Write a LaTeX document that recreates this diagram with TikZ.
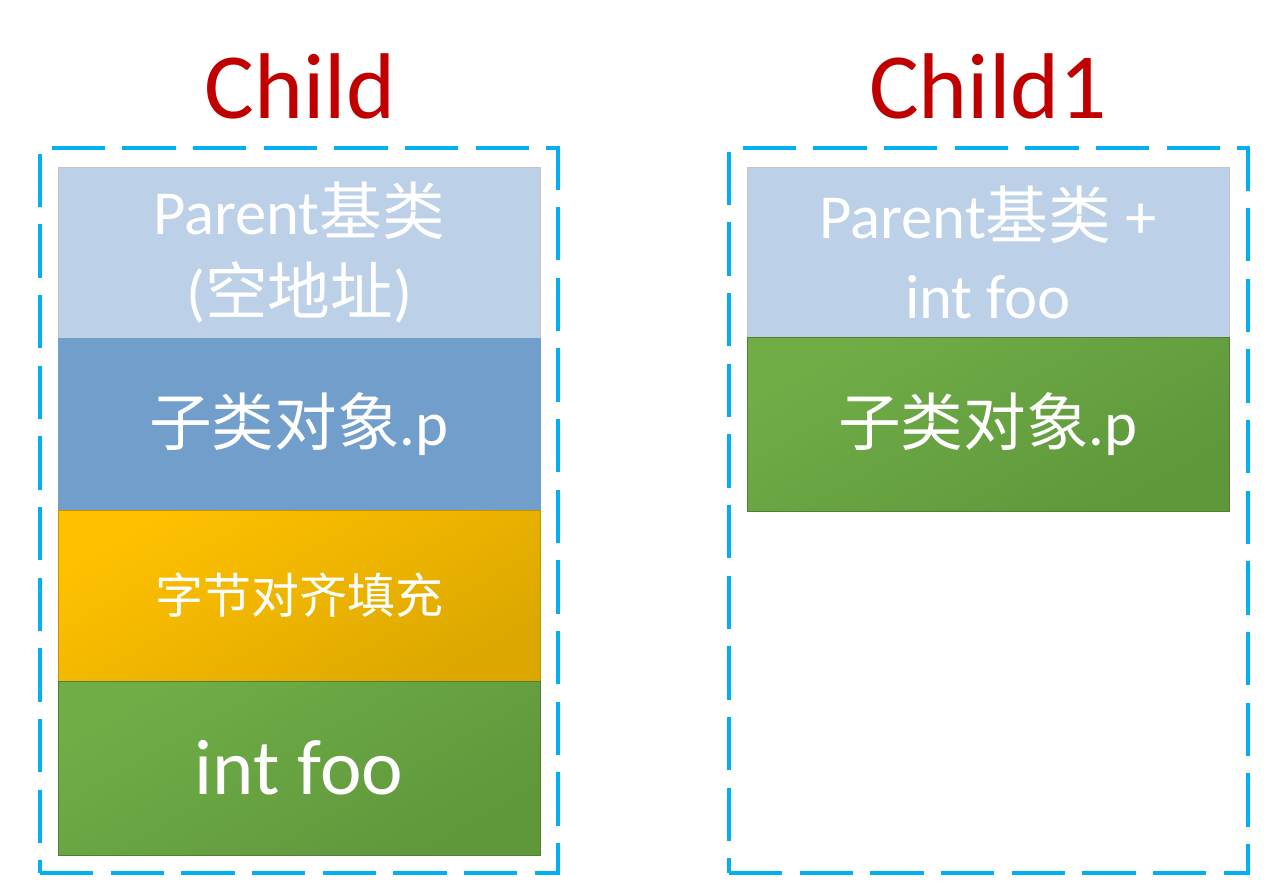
\documentclass[tikz,border=0pt]{standalone}
\usepackage{fontspec}
\setmainfont{Carlito}
\newfontfamily\cjk{Noto Sans CJK SC}
\definecolor{dashblue}{HTML}{00B0F0}
\definecolor{titlered}{HTML}{C00000}
\definecolor{lightblue}{HTML}{BCD0E8}
\definecolor{midblue}{HTML}{729ECB}
\definecolor{greyb}{HTML}{C4C4C4}
\definecolor{yellowA}{HTML}{FFC000}
\definecolor{yellowB}{HTML}{DCA800}
\definecolor{yellowD}{HTML}{C29400}
\definecolor{greenA}{HTML}{70AD47}
\definecolor{greenB}{HTML}{5F973B}
\definecolor{greenD}{HTML}{507E32}
\begin{document}
\begin{tikzpicture}[x=0.75pt,y=-0.75pt,
  frame/.style={draw=dashblue, line width=3pt, dash pattern=on 40pt off 13pt,
    minimum width=388.5pt, minimum height=543.75pt, inner sep=0pt},
  blk/.style={inner sep=0pt, minimum width=361.5pt, text=white, align=center, line width=0.75pt},
  bigtxt/.style={font=\fontsize{47}{60}\selectfont},
  yshade/.style={top color=yellowA, bottom color=yellowB, shading angle=30, draw=yellowD},
  gshade/.style={top color=greenA, bottom color=greenB, shading angle=30, draw=greenD},
  title/.style={text=titlered, font=\fontsize{70}{84}\selectfont, inner sep=0pt, anchor=base}]
\useasboundingbox (0,0) rectangle (1278,894);
\fill[white] (0,0) rectangle (1278,894);

% titles
\node[title] (tleft) at (300,118) {Child};
\node[title] (tright) at (988,118) {Child1};

% left column
\node[blk, bigtxt, fill=lightblue, draw=greyb, minimum height=128.25pt] (lparent) at (299,252.5)
  {Parent{\cjk 基类}\\({\cjk 空地址})};
\node[blk, bigtxt, fill=midblue, draw=midblue, minimum height=129pt] (lsub) at (299,424)
  {{\cjk 子类对象}.p};
\node[blk, yshade, minimum height=128.25pt, font=\fontsize{36}{44}\selectfont] (lpad) at (299,595.5)
  {{\cjk 字节对齐填充}};
\node[blk, gshade, minimum height=130.5pt, font=\fontsize{59}{70}\selectfont] (lfoo) at (299,768)
  {int foo};

% right column
\node[blk, bigtxt, fill=lightblue, draw=greyb, minimum height=127.5pt] (rparent) at (988,252)
  {Parent{\cjk 基类} +\\int foo};
\node[blk, bigtxt, gshade, minimum height=130.5pt] (rsub) at (988,424)
  {{\cjk 子类对象}.p};

% dashed frames
\node[frame] (lframe) at (299,510.5) {};
\node[frame, minimum width=389.25pt] (rframe) at (988.5,510.5) {};
\end{tikzpicture}
\end{document}
